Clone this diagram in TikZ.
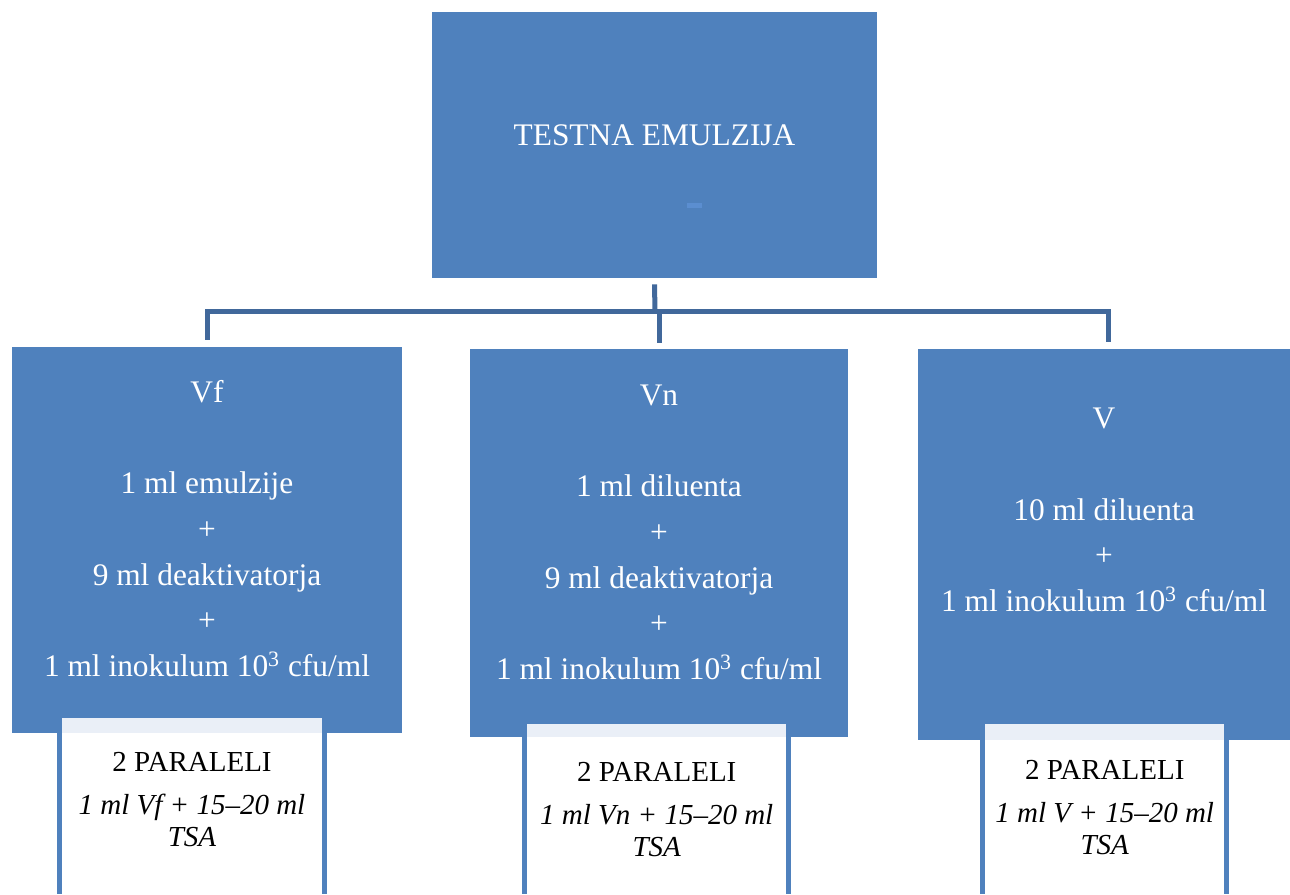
\documentclass[tikz,border=0pt]{standalone}
\usepackage{fontspec}
\setmainfont{Liberation Serif}
\definecolor{boxblue}{RGB}{79,129,189}
\definecolor{linkblue}{RGB}{65,104,155}
\definecolor{bandblue}{RGB}{234,239,247}
\definecolor{dashblue}{RGB}{91,142,208}
\tikzset{%
    block/.style = {fill=boxblue, rectangle, inner sep=0pt},
    blocktext/.style = {text=white, align=center, inner sep=0pt, font=\fontsize{15.7}{22.85}\selectfont},
    sample/.style = {fill=white, rectangle, inner sep=0pt},
    sampletext/.style = {align=center, inner sep=0pt, font=\fontsize{14.5}{16}\selectfont},
    link/.style = {draw=linkblue, line width=2.5pt},
    side/.style = {draw=boxblue, line width=2.5pt},
}

\begin{document}
\begin{tikzpicture}[x=0.5pt, y=-0.5pt]
        \useasboundingbox (0,0) rectangle (1290,894);
        \draw
            node at (654.5,145) [block, minimum width=222.5pt, minimum height=133pt] (emul) {}
            node at (207,540) [block, minimum width=195pt, minimum height=193pt] (vf) {}
            node at (659,543) [block, minimum width=189pt, minimum height=194pt] (vn) {}
            node at (1104,544.5) [block, minimum width=186pt, minimum height=195.5pt] (v) {};

        \node[blocktext, anchor=base] (emultext) at ([yshift=-67pt]emul.north) {TESTNA EMULZIJA};
        \node[fill=dashblue, inner sep=0pt, minimum width=7.5pt, minimum height=2.5pt] (dash) at (694.5,205.5) {};

        \node[blocktext, anchor=base] (vftext) at ([yshift=-165pt]vf.north)
            {Vf\\[22.85pt]1 ml emulzije\\+\\9 ml deaktivatorja\\+\\1 ml inokulum 10\textsuperscript{3} cfu/ml};
        \node[blocktext, anchor=base] (vntext) at ([yshift=-165.5pt]vn.north)
            {Vn\\[22.85pt]1 ml diluenta\\+\\9 ml deaktivatorja\\+\\1 ml inokulum 10\textsuperscript{3} cfu/ml};
        \node[blocktext, anchor=base] (vtext) at ([yshift=-131.5pt]v.north)
            {V\\[22.85pt]10 ml diluenta\\+\\1 ml inokulum 10\textsuperscript{3} cfu/ml};

        \coordinate (hub) at (655,311);
        \draw[link] ([yshift=-3pt]emul.south) -- (hub);
        \draw[link] (hub) -| ([yshift=3.5pt]vf.north);
        \draw[link] (hub) -| ([yshift=3pt]vn.north);
        \draw[link] (hub) -| ([xshift=2pt, yshift=3.5pt]v.north);

        \draw
            node at (192,806) [sample, minimum width=132.5pt, minimum height=88pt] (vfpar) {}
            node at (656.75,809) [sample, minimum width=131.75pt, minimum height=85pt] (vnpar) {}
            node at (1104.75,809) [sample, minimum width=121.75pt, minimum height=85pt] (vpar) {};
        \fill[bandblue] (vfpar.north west) rectangle (vfpar.east |- vf.south);
        \fill[bandblue] (vnpar.north west) rectangle (vnpar.east |- vn.south);
        \fill[bandblue] (vpar.north west) rectangle (vpar.east |- v.south);
        \draw[side] (vfpar.north west) -- (vfpar.south west) (vfpar.north east) -- (vfpar.south east);
        \draw[side] (vnpar.north west) -- (vnpar.south west) (vnpar.north east) -- (vnpar.south east);
        \draw[side] (vpar.north west) -- (vpar.south west) (vpar.north east) -- (vpar.south east);

        \node[sampletext, anchor=base] (vfpartext) at ([yshift=-64.5pt]vfpar.north)
            {2 PARALELI\\[5.5pt]\textit{1 ml Vf + 15--20 ml}\\\textit{TSA}};
        \node[sampletext, anchor=base] (vnpartext) at ([yshift=-66.5pt]vnpar.north)
            {2 PARALELI\\[5.5pt]\textit{1 ml Vn + 15--20 ml}\\\textit{TSA}};
        \node[sampletext, anchor=base] (vpartext) at ([yshift=-65.5pt]vpar.north)
            {2 PARALELI\\[5.5pt]\textit{1 ml V + 15--20 ml}\\\textit{TSA}};
    \end{tikzpicture}
\end{document}
